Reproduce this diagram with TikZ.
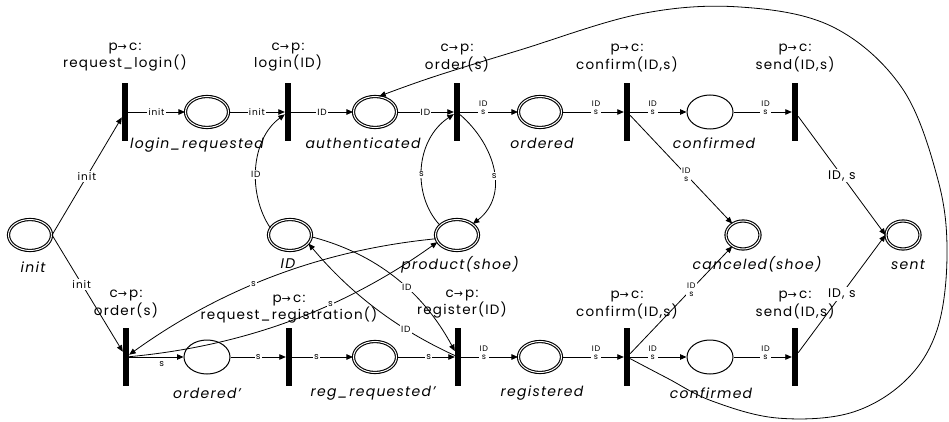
\documentclass[tikz,border=0pt]{standalone}
\usepackage{fontspec}
\setmainfont{Poppins}[LetterSpace=9]
\newfontfamily\arrowfont{DejaVu Sans}
\usetikzlibrary{arrows.meta,shapes.geometric}
\newcommand\PtoC{p{\arrowfont\fontsize{11}{11}\selectfont→}\,c:}
\newcommand\CtoP{c{\arrowfont\fontsize{11}{11}\selectfont→}\,p:}

\begin{document}
\begin{tikzpicture}[x=1pt,y=-1pt,
  place/.style={ellipse, draw, line width=1.1pt, double=white, double distance=1pt,
    minimum width=43pt, minimum height=31pt, inner sep=0pt},
  splace/.style={ellipse, draw, line width=1pt, minimum width=46pt, minimum height=34pt, inner sep=0pt},
  smallplace/.style={place, minimum width=34pt, minimum height=28pt},
  bar/.style={rectangle, fill=black, minimum width=6pt, minimum height=58pt, inner sep=0pt},
  arc/.style={line width=0.8pt, -{Triangle[length=6.5pt,width=5.5pt]}},
  tlabel/.style={align=center, inner sep=0pt, font=\fontsize{13.5}{13.5}\selectfont},
  plabel/.style={inner sep=0pt, font=\itshape\fontsize{14}{14}\selectfont},
  lbl/.style={fill=white, inner sep=1.2pt, font=\fontsize{9}{9}\selectfont},
  lbl2/.style={fill=white, inner sep=1pt, align=center, font=\fontsize{8}{8}\selectfont},
  lblbig/.style={fill=white, inner sep=1.5pt, font=\fontsize{12.5}{12}\selectfont},
]
\useasboundingbox (0,0) rectangle (949,422);

% ---- top row: login and ordering ----
\node[place] (init) at (30,235) {};
\node[bar]   (T1)   at (125,112) {};
\node[place] (lr)   at (207,112) {};
\node[bar]   (T2)   at (288,112) {};
\node[place] (auth) at (375,112) {};
\node[bar]   (T3)   at (457,112) {};
\node[place] (ord)  at (540,112) {};
\node[bar]   (T4)   at (627,112) {};
\node[splace] (conf) at (710,112) {};
\node[bar]   (T5)   at (795,112) {};

% ---- shared places ----
\node[place] (ID)   at (290,235) {};
\node[place] (prod) at (457,235) {};
\node[smallplace] (canc) at (743,235) {};
\node[smallplace] (sent) at (903,235) {};

% ---- bottom row: ordering before registration ----
\node[bar]    (B1)    at (126,357) {};
\node[splace] (ordp)  at (207,357) {};
\node[bar]    (B2)    at (289,357) {};
\node[place]  (regp)  at (375,357) {};
\node[bar]    (B3)    at (458,357) {};
\node[place]  (regd)  at (540,357) {};
\node[bar]    (B4)    at (627,357) {};
\node[splace] (confb) at (710,357) {};
\node[bar]    (B5)    at (795,357) {};

% ---- transition inscriptions ----
\node[tlabel, anchor=south] (T1t) at ([yshift=11pt]T1.north) {\PtoC\\request\_login()};
\node[tlabel, anchor=south] (T2t) at ([yshift=11pt]T2.north) {\CtoP\\login(ID)};
\node[tlabel, anchor=south] (T3t) at ([yshift=11pt]T3.north) {\CtoP\\order(s)};
\node[tlabel, anchor=south] (T4t) at ([yshift=11pt]T4.north) {\PtoC\\confirm(ID,s)};
\node[tlabel, anchor=south] (T5t) at ([yshift=11pt]T5.north) {\PtoC\\send(ID,s)};
\node[tlabel, anchor=south] (B1t) at ([yshift=10pt]B1.north) {\CtoP\\order(s)};
\node[tlabel, anchor=south] (B2t) at ([yshift=4pt]B2.north) {\PtoC\\request\_registration()};
\node[tlabel, anchor=south] (B3t) at ([xshift=4pt,yshift=9pt]B3.north) {\CtoP\\register(ID)};
\node[tlabel, anchor=south] (B4t) at ([yshift=9pt]B4.north) {\PtoC\\confirm(ID,s)};
\node[tlabel, anchor=south] (B5t) at ([yshift=9pt]B5.north) {\PtoC\\send(ID,s)};

% ---- place names ----
\node[plabel] (initn) at (33,267)  {init};
\node[plabel] (lrn)   at (197,145) {login\_requested};
\node[plabel] (authn) at (363,143) {authenticated};
\node[plabel] (ordn)  at (542,143) {ordered};
\node[plabel] (confn) at (714,143) {confirmed};
\node[plabel] (IDn)   at (288,264) {ID};
\node[plabel] (prodn) at (460,265) {product(shoe)};
\node[plabel] (cancn) at (757,264) {canceled(shoe)};
\node[plabel] (sentn) at (908,265) {sent};
\node[plabel] (ordpn) at (207,393) {ordered'};
\node[plabel] (regpn) at (373,393) {reg\_requested'};
\node[plabel] (regdn) at (542,393) {registered};
\node[plabel] (confbn) at (711,393) {confirmed};

% ---- arcs of the top row ----
\draw[arc] (init.east) -- node[lblbig, font=\fontsize{10.5}{10}\selectfont, pos=0.5] {init} (T1);
\draw[arc] (T1) -- node[lbl] {init} (lr);
\draw[arc] (lr) -- node[lbl] {init} (T2);
\draw[arc] (T2) -- node[lbl] {ID} (auth);
\draw[arc] (auth) -- node[lbl] {ID} (T3);
\draw[arc] (T3) -- node[lbl2, yshift=4pt, pos=0.4] {ID\\s} (ord);
\draw[arc] (ord) -- node[lbl2, yshift=4pt, pos=0.55] {ID\\s} (T4);
\draw[arc] (T4) -- node[lbl2, yshift=4pt, pos=0.4] {ID\\s} (conf);
\draw[arc] (conf) -- node[lbl2, yshift=4pt, pos=0.55] {ID\\s} (T5);

% ---- arcs of the bottom row ----
\draw[arc] (init.east) -- node[lblbig, font=\fontsize{10.5}{10}\selectfont, pos=0.42] {init} (B1);
\draw[arc] (B1) -- node[lbl, pos=0.6, yshift=-7pt, fill=none] {s} (ordp);
\draw[arc] (ordp) -- node[lbl] {s} (B2);
\draw[arc] (B2) -- node[lbl, pos=0.4] {s} (regp);
\draw[arc] (regp) -- node[lbl, pos=0.55] {s} (B3);
\draw[arc] (B3) -- node[lbl2, yshift=4pt, pos=0.4] {ID\\s} (regd);
\draw[arc] (regd) -- node[lbl2, yshift=4pt, pos=0.55] {ID\\s} (B4);
\draw[arc] (B4) -- node[lbl2, yshift=4pt, pos=0.4] {ID\\s} (confb);
\draw[arc] (confb) -- node[lbl2, yshift=4pt, pos=0.55] {ID\\s} (B5);

% ---- reading the ID token ----
\draw[arc] (ID.160) .. controls (248,195) and (250,140) .. node[lbl, pos=0.45] {ID} (T2);
\draw[arc] (ID.355) .. controls (377,254) and (423,292) .. node[lbl, pos=0.58] {ID} (B3);
\draw[arc] (B3) .. controls (397,329) and (351,294) .. node[lbl, pos=0.3] {ID} (ID.335);

% ---- reading the product ----
\draw[arc] (prod.150) .. controls (412,195) and (415,140) .. node[lbl, pos=0.45] {s} (T3);
\draw[arc] (T3) .. controls (495,145) and (510,195) .. node[lbl, pos=0.55] {s} (prod.35);
\draw[arc] (prod.190) .. controls (322,250) and (222,288) .. node[lbl, pos=0.57] {s} (B1);
\draw[arc] (B1) .. controls (244,346) and (344,309) .. node[lbl, pos=0.63] {s} (prod.200);

% ---- cancellation and delivery ----
\draw[arc] (T4) -- node[lbl2, pos=0.55] {ID\\s} (canc);
\draw[arc] (B4) -- node[lbl2, pos=0.6] {ID\\s} (canc);
\draw[arc] (T5) -- node[lblbig, pos=0.5] {ID, s} (sent.west);
\draw[arc] (B5) -- node[lblbig, pos=0.5] {ID, s} (sent.west);

% ---- return from confirmation back to authenticated ----
\draw[arc] plot[smooth, tension=0.6] coordinates {
  (B4) (667,378) (712,401) (777,418) (850,413) (905,381) (937,330) (947,255)
  (938,180) (902,88) (833,27) (740,7) (640,14) (520,50) (433,77) (auth.75)};
\end{tikzpicture}
\end{document}
